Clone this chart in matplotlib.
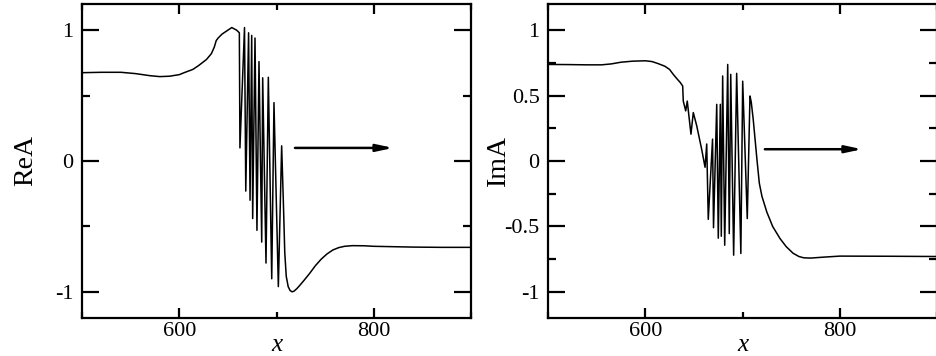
import matplotlib
matplotlib.use("Agg")
import matplotlib.pyplot as plt
from matplotlib.ticker import FixedLocator

plt.rcParams['font.family'] = ['Liberation Serif', 'DejaVu Serif']
plt.rcParams['axes.unicode_minus'] = False

# ReA(x)
re_x = [500, 520, 540, 555, 570, 580, 590, 600, 605, 614, 620, 628, 633, 636, 638,
        640, 644, 650, 654, 659, 661.8, 662.4, 667.1, 668.4, 671.3, 672.8, 674.5,
        675.5, 677.9, 679.9, 682.0, 684.8, 685.8, 689.2, 691.6, 695.1, 697.4, 701.9,
        705.3, 707, 708.5, 710, 712, 714, 716, 718, 721, 724, 728, 734, 740, 746,
        752, 758, 764, 770, 778, 790, 800, 840, 870, 900]
re_y = [0.675, 0.678, 0.678, 0.668, 0.652, 0.645, 0.648, 0.66, 0.675, 0.70, 0.73,
        0.776, 0.82, 0.87, 0.92, 0.94, 0.97, 1.0, 1.02, 1.0, 0.98, 0.10, 1.02, -0.23,
        0.98, -0.30, 0.96, -0.44, 0.94, -0.53, 0.76, -0.62, 0.636, -0.78, 0.64,
        -0.90, 0.446, -0.96, 0.116, -0.30, -0.70, -0.88, -0.96, -0.99, -1.0, -0.995,
        -0.975, -0.95, -0.915, -0.86, -0.80, -0.75, -0.71, -0.68, -0.662, -0.652,
        -0.647, -0.648, -0.652, -0.658, -0.66, -0.66]

# ImA(x)
im_x = [500, 520, 540, 555, 565, 575, 587, 600, 607, 613, 620, 625, 629, 633, 636,
        638.5, 639.1, 641.6, 643.2, 647.0, 649.4, 652.9, 658.0, 661.5, 663.2, 664.8,
        669.2, 670.2, 673.5, 675.1, 677.2, 678.2, 679.6, 681.7, 684.8, 686.4, 687.9,
        690.9, 694.0, 698.3, 700.2, 704.9, 707.7, 709, 711, 713, 715, 717.3, 720,
        725, 731, 738.6, 745, 752, 758, 763, 770, 783, 800, 850, 900]
im_y = [0.738, 0.737, 0.735, 0.735, 0.742, 0.755, 0.763, 0.766, 0.76, 0.745, 0.725,
        0.70, 0.66, 0.625, 0.60, 0.573, 0.458, 0.383, 0.458, 0.205, 0.37, 0.27, 0.09,
        -0.048, 0.13, -0.446, 0.167, -0.51, 0.433, -0.59, 0.433, -0.575, 0.65,
        -0.644, 0.738, -0.555, 0.662, -0.72, 0.67, -0.707, 0.61, -0.44, 0.497, 0.45,
        0.32, 0.16, 0.0, -0.17, -0.27, -0.39, -0.50, -0.593, -0.655, -0.705, -0.73,
        -0.74, -0.742, -0.735, -0.727, -0.728, -0.73]

# arrows (start x, end x, y)
re_arrow = (719, 820, 0.10)
im_arrow = (723, 823, 0.09)

fig = plt.figure(figsize=(9.36, 3.56), dpi=100)
ax1 = fig.add_axes([82 / 936, 1 - 318 / 356, 389 / 936, 314 / 356])
ax2 = fig.add_axes([548 / 936, 1 - 318 / 356, 389 / 936, 314 / 356])


def style(ax, yticks, ylabels, yminor, name, labx):
    ax.set_xlim(500, 900)
    ax.set_ylim(-1.2, 1.2)
    ax.set_xticks([600, 800])
    ax.set_xticklabels(['600', '800'])
    ax.xaxis.set_minor_locator(FixedLocator([500, 700, 900]))
    ax.set_yticks(yticks)
    ax.set_yticklabels(ylabels)
    ax.yaxis.set_minor_locator(FixedLocator(yminor))
    for s in ax.spines.values():
        s.set_linewidth(1.6)
    ax.tick_params(which='both', direction='in', top=True, right=True, width=1.6,
                   labelsize=16)
    ax.tick_params(axis='x', which='major', length=7, pad=3)
    ax.tick_params(axis='x', which='minor', length=4)
    ax.tick_params(axis='y', which='major', length=12, pad=6)
    ax.tick_params(axis='y', which='minor', length=6)
    ax.set_xlabel('x', fontsize=18, style='italic', labelpad=-5)
    ax.set_ylabel(name, fontsize=20)
    ax.yaxis.set_label_coords(labx, 0.5)


style(ax1, [-1, 0, 1], ['-1', '0', '1'], [-0.5, 0.5], 'ReA', -0.113)
style(ax2, [-1, -0.5, 0, 0.5, 1], ['-1', '-0.5', '0', '0.5', '1'],
      [-0.75, -0.25, 0.25, 0.75], 'ImA', -0.095)

ax1.plot(re_x, re_y, color='black', lw=1.1)
ax2.plot(im_x, im_y, color='black', lw=1.1)

for ax, (x0, x1, y) in [(ax1, re_arrow), (ax2, im_arrow)]:
    ax.annotate('', xy=(x1, y), xytext=(x0, y),
                arrowprops=dict(arrowstyle='-|>,head_length=0.7,head_width=0.15',
                                lw=1.8, color='black', mutation_scale=14,
                                shrinkA=0, shrinkB=0))

fig.savefig('out.png', dpi=100)
